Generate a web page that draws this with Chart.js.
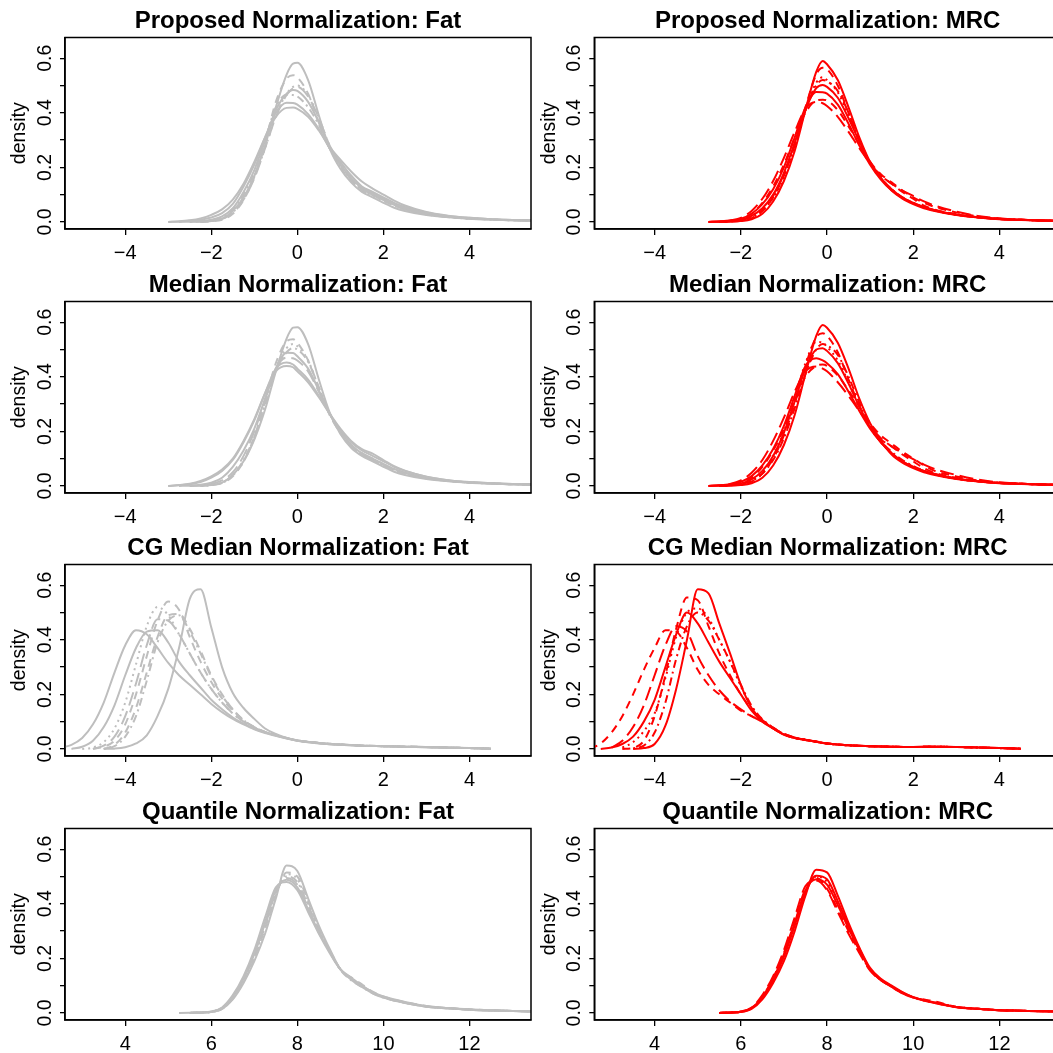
<!DOCTYPE html>
<html>
<head>
<meta charset="utf-8">
<title>Density plots by normalization</title>
<script src="https://cdn.jsdelivr.net/npm/chart.js@4.4.1/dist/chart.umd.min.js"></script>
<style>
  html, body { margin: 0; padding: 0; background: #fff; width: 1053px; height: 1053px; overflow: hidden; }
  canvas { position: absolute; }
</style>
</head>
<body>
<script>
// x grids the density curves are sampled on
const gridTop = [-3.25,-3,-2.75,-2.5,-2.25,-2,-1.75,-1.5,-1.25,-1,-0.75,-0.5,-0.25,-0.1,0,0.25,0.5,0.75,1,1.25,1.5,1.75,2,2.25,2.5,3,3.5,4,4.5,5,5.5];
const gridCG = [-5.5,-5.25,-5,-4.75,-4.5,-4.25,-4,-3.75,-3.5,-3.25,-3,-2.75,-2.5,-2.25,-2,-1.75,-1.5,-1.25,-1,-0.75,-0.5,-0.25,0,0.5,1,1.5,2,2.5,3,3.5,4,4.5];
const gridQ = [5.25,5.5,5.75,6,6.25,6.5,6.75,7,7.25,7.5,7.75,8,8.25,8.5,8.75,9,9.25,9.5,9.75,10,10.5,11,11.5,12,12.5,13,13.5];

// tick values and labels
const xTicksNorm = [-4, -2, 0, 2, 4];
const xLabelsNorm = ['\u22124', '\u22122', '0', '2', '4'];
const xTicksQ = [4, 6, 8, 10, 12];
const xLabelsQ = ['4', '6', '8', '10', '12'];
const yTicks = [0, 0.1, 0.2, 0.3, 0.4, 0.5, 0.6];
const yLabels = ['0.0', '', '0.2', '', '0.4', '', '0.6'];

// Proposed normalization: Fat
const propFat = [
  [null,null,null,0,0.001,0.003,0.012,0.04,0.09,0.17,0.28,0.42,0.54,0.58,0.583,0.52,0.39,0.27,0.195,0.145,0.11,0.09,0.07,0.052,0.04,0.025,0.017,0.012,0.009,0.006,0.005],
  [null,null,0,0.001,0.003,0.008,0.02,0.05,0.11,0.19,0.3,0.41,0.47,0.484,0.48,0.44,0.365,0.275,0.21,0.16,0.125,0.105,0.085,0.065,0.05,0.03,0.02,0.013,0.009,0.007,0.005],
  [null,0,0.001,0.004,0.008,0.016,0.032,0.066,0.13,0.21,0.31,0.4,0.437,0.436,0.43,0.395,0.34,0.27,0.22,0.17,0.13,0.11,0.09,0.07,0.055,0.035,0.022,0.015,0.01,0.007,0.005],
  [null,0,0.002,0.006,0.013,0.026,0.046,0.082,0.14,0.22,0.31,0.385,0.418,0.419,0.414,0.385,0.335,0.275,0.228,0.185,0.148,0.122,0.1,0.078,0.06,0.036,0.023,0.015,0.01,0.007,0.005],
  [null,null,null,null,0,0.002,0.008,0.03,0.08,0.165,0.29,0.44,0.525,0.538,0.53,0.47,0.365,0.27,0.2,0.15,0.115,0.098,0.078,0.06,0.046,0.028,0.018,0.012,0.009,0.006,0.005],
  [null,null,null,null,0,0.004,0.012,0.035,0.085,0.165,0.27,0.39,0.47,0.495,0.5,0.465,0.38,0.28,0.205,0.15,0.115,0.095,0.078,0.06,0.046,0.028,0.018,0.012,0.009,0.006,0.005],
  [null,null,null,0,0.002,0.006,0.018,0.045,0.1,0.185,0.3,0.42,0.466,0.465,0.46,0.42,0.355,0.27,0.21,0.16,0.12,0.1,0.082,0.063,0.048,0.03,0.019,0.013,0.009,0.006,0.005],
  [null,null,null,null,0,0.003,0.01,0.032,0.082,0.16,0.27,0.385,0.465,0.49,0.495,0.46,0.38,0.28,0.21,0.155,0.12,0.1,0.08,0.062,0.047,0.029,0.018,0.012,0.009,0.006,0.005]
];
const ltyPropFat = ['solid','solid','solid','solid','dashed','dotted','dotdash','longdash'];

// Proposed normalization: MRC
const propMRC = [
  [null,null,null,0,0.001,0.003,0.01,0.03,0.075,0.15,0.26,0.41,0.55,0.59,0.578,0.52,0.42,0.31,0.22,0.16,0.115,0.085,0.065,0.05,0.04,0.025,0.016,0.01,0.007,0.005,0.004],
  [null,null,0,0.001,0.003,0.008,0.022,0.05,0.1,0.18,0.29,0.41,0.49,0.502,0.495,0.455,0.38,0.295,0.215,0.16,0.12,0.09,0.07,0.055,0.043,0.027,0.017,0.011,0.008,0.005,0.004],
  [null,null,0,0.002,0.005,0.012,0.03,0.065,0.12,0.2,0.31,0.42,0.476,0.475,0.47,0.43,0.36,0.28,0.21,0.155,0.115,0.088,0.068,0.053,0.042,0.026,0.017,0.011,0.008,0.005,0.004],
  [null,null,null,0,0.001,0.004,0.014,0.04,0.09,0.17,0.28,0.42,0.54,0.565,0.56,0.5,0.4,0.3,0.22,0.17,0.14,0.11,0.085,0.06,0.045,0.028,0.017,0.011,0.008,0.005,0.004],
  [null,null,null,0,0.002,0.006,0.018,0.045,0.095,0.175,0.285,0.41,0.5,0.52,0.515,0.48,0.4,0.3,0.215,0.16,0.12,0.09,0.07,0.055,0.043,0.027,0.017,0.011,0.008,0.005,0.004],
  [null,null,null,0,0.003,0.01,0.03,0.07,0.13,0.21,0.31,0.4,0.445,0.448,0.445,0.41,0.35,0.285,0.22,0.175,0.145,0.115,0.09,0.07,0.055,0.035,0.02,0.012,0.008,0.005,0.004],
  [null,null,0,0.001,0.005,0.015,0.04,0.085,0.15,0.235,0.33,0.415,0.44,0.435,0.425,0.385,0.33,0.27,0.215,0.17,0.14,0.115,0.095,0.075,0.06,0.038,0.022,0.013,0.008,0.005,0.004],
  [null,null,null,0,0.001,0.005,0.015,0.04,0.088,0.165,0.275,0.41,0.51,0.53,0.52,0.475,0.39,0.295,0.215,0.16,0.12,0.09,0.07,0.054,0.042,0.026,0.017,0.011,0.008,0.005,0.004]
];
const ltyPropMRC = ['solid','solid','solid','dashed','dotdash','dashed','longdash','dotted'];

// Median normalization: Fat
const medFat = [
  [null,null,null,0,0.001,0.003,0.012,0.04,0.09,0.17,0.28,0.42,0.54,0.58,0.582,0.52,0.39,0.27,0.19,0.14,0.11,0.09,0.07,0.052,0.04,0.025,0.017,0.012,0.009,0.006,0.005],
  [null,null,null,null,0,0.003,0.01,0.035,0.09,0.18,0.31,0.45,0.53,0.538,0.525,0.46,0.36,0.26,0.195,0.145,0.115,0.095,0.075,0.058,0.045,0.028,0.018,0.012,0.009,0.006,0.005],
  [null,null,null,null,0,0.004,0.012,0.04,0.095,0.18,0.3,0.42,0.49,0.505,0.5,0.455,0.36,0.265,0.195,0.145,0.115,0.095,0.077,0.06,0.046,0.028,0.018,0.012,0.009,0.006,0.005],
  [null,null,0,0.001,0.004,0.012,0.03,0.07,0.13,0.21,0.32,0.43,0.488,0.487,0.475,0.43,0.35,0.265,0.2,0.15,0.12,0.1,0.08,0.062,0.048,0.03,0.019,0.013,0.009,0.006,0.005],
  [null,0,0.002,0.006,0.014,0.03,0.055,0.095,0.16,0.24,0.34,0.43,0.452,0.445,0.43,0.39,0.33,0.265,0.205,0.16,0.13,0.11,0.09,0.07,0.055,0.034,0.021,0.014,0.01,0.007,0.005],
  [null,0,0.003,0.008,0.018,0.035,0.06,0.1,0.165,0.245,0.34,0.42,0.44,0.435,0.42,0.38,0.325,0.265,0.21,0.165,0.135,0.118,0.095,0.072,0.056,0.034,0.021,0.014,0.01,0.007,0.005],
  [null,null,null,null,0,0.003,0.011,0.038,0.09,0.175,0.3,0.43,0.505,0.52,0.512,0.46,0.36,0.265,0.195,0.145,0.113,0.093,0.075,0.058,0.045,0.028,0.018,0.012,0.009,0.006,0.005],
  [null,null,null,0,0.002,0.007,0.02,0.05,0.11,0.2,0.315,0.43,0.47,0.468,0.46,0.42,0.345,0.265,0.2,0.15,0.12,0.1,0.08,0.062,0.048,0.03,0.019,0.013,0.009,0.006,0.005]
];
const ltyMedFat = ['solid','dashed','dotdash','solid','solid','solid','dotted','longdash'];

// Median normalization: MRC
const medMRC = [
  [null,null,null,0,0.001,0.003,0.01,0.03,0.075,0.15,0.26,0.41,0.55,0.59,0.58,0.525,0.43,0.32,0.23,0.165,0.115,0.085,0.065,0.05,0.04,0.025,0.016,0.01,0.007,0.005,0.004],
  [null,null,null,0,0.002,0.005,0.016,0.045,0.1,0.185,0.3,0.44,0.545,0.56,0.55,0.49,0.39,0.295,0.22,0.17,0.145,0.115,0.09,0.065,0.048,0.03,0.018,0.011,0.008,0.005,0.004],
  [null,null,null,0,0.002,0.007,0.02,0.05,0.11,0.2,0.32,0.45,0.528,0.525,0.51,0.46,0.38,0.29,0.215,0.16,0.12,0.09,0.07,0.054,0.042,0.026,0.017,0.011,0.008,0.005,0.004],
  [null,null,0,0.001,0.003,0.009,0.024,0.055,0.11,0.195,0.31,0.43,0.5,0.505,0.495,0.45,0.375,0.29,0.215,0.16,0.12,0.09,0.07,0.055,0.043,0.027,0.017,0.011,0.008,0.005,0.004],
  [null,null,0,0.002,0.006,0.015,0.036,0.075,0.135,0.22,0.33,0.44,0.468,0.46,0.45,0.41,0.345,0.275,0.21,0.16,0.12,0.09,0.07,0.055,0.043,0.027,0.017,0.011,0.008,0.005,0.004],
  [null,null,null,0,0.003,0.01,0.03,0.07,0.13,0.21,0.31,0.4,0.44,0.445,0.44,0.405,0.35,0.29,0.23,0.185,0.155,0.125,0.1,0.075,0.055,0.035,0.02,0.012,0.008,0.005,0.004],
  [null,null,0,0.002,0.007,0.02,0.048,0.095,0.165,0.25,0.345,0.42,0.438,0.43,0.42,0.38,0.33,0.275,0.22,0.175,0.145,0.12,0.098,0.078,0.062,0.04,0.023,0.013,0.008,0.005,0.004],
  [null,null,null,0,0.002,0.006,0.018,0.045,0.095,0.175,0.285,0.41,0.5,0.52,0.515,0.48,0.4,0.305,0.22,0.165,0.125,0.095,0.073,0.056,0.044,0.027,0.017,0.011,0.008,0.005,0.004]
];
const ltyMedMRC = ['solid','dashed','dotted','solid','solid','dashed','longdash','dotdash'];

// CG median normalization: Fat
const cgFat = [
  [null,null,null,null,0,0.001,0.006,0.02,0.05,0.12,0.22,0.37,0.55,0.585,0.445,0.3,0.205,0.15,0.11,0.075,0.055,0.04,0.031,0.022,0.016,0.012,0.01,0.008,0.007,0.005,0.003,0.001],
  [0.004,0.015,0.04,0.09,0.17,0.28,0.38,0.435,0.42,0.37,0.315,0.27,0.235,0.2,0.165,0.135,0.11,0.09,0.072,0.058,0.048,0.038,0.03,0.02,0.015,0.012,0.01,0.008,0.006,0.004,0.003,0.001],
  [null,0,0.008,0.03,0.08,0.16,0.27,0.37,0.43,0.435,0.39,0.32,0.27,0.225,0.18,0.145,0.115,0.093,0.074,0.06,0.049,0.039,0.03,0.021,0.015,0.012,0.01,0.008,0.006,0.004,0.003,0.001],
  [null,null,null,0,0.008,0.03,0.09,0.2,0.34,0.47,0.54,0.51,0.41,0.32,0.245,0.185,0.14,0.105,0.08,0.062,0.05,0.04,0.031,0.022,0.016,0.012,0.01,0.008,0.007,0.005,0.003,0.001],
  [null,null,null,null,0,0.01,0.045,0.12,0.25,0.39,0.47,0.49,0.43,0.35,0.265,0.195,0.145,0.105,0.08,0.062,0.05,0.04,0.031,0.022,0.016,0.012,0.01,0.008,0.007,0.005,0.003,0.001],
  [null,null,0,0.005,0.025,0.075,0.17,0.31,0.45,0.52,0.49,0.42,0.35,0.28,0.22,0.17,0.13,0.1,0.078,0.062,0.05,0.04,0.031,0.022,0.016,0.012,0.01,0.008,0.007,0.005,0.003,0.001],
  [null,null,null,0,0.012,0.045,0.12,0.24,0.38,0.475,0.47,0.42,0.35,0.28,0.22,0.17,0.13,0.1,0.078,0.062,0.05,0.04,0.031,0.022,0.016,0.012,0.01,0.008,0.007,0.005,0.003,0.001],
  [null,null,null,null,0,0.015,0.06,0.15,0.28,0.41,0.49,0.495,0.44,0.36,0.27,0.2,0.145,0.105,0.08,0.062,0.05,0.04,0.031,0.022,0.016,0.012,0.01,0.008,0.007,0.005,0.003,0.001]
];
const ltyCgFat = ['solid','solid','solid','dashed','dotdash','dotted','longdash','dashed'];

// CG median normalization: MRC
const cgMRC = [
  [null,null,null,null,0,0.003,0.018,0.085,0.22,0.4,0.585,0.57,0.46,0.35,0.235,0.15,0.105,0.075,0.052,0.04,0.033,0.026,0.02,0.013,0.01,0.008,0.007,0.008,0.007,0.005,0.003,0.001],
  [null,0,0.005,0.018,0.045,0.1,0.18,0.3,0.42,0.5,0.46,0.39,0.32,0.26,0.2,0.14,0.1,0.075,0.053,0.04,0.033,0.026,0.02,0.013,0.01,0.008,0.007,0.008,0.007,0.005,0.003,0.001],
  [null,null,null,0,0.004,0.03,0.12,0.27,0.44,0.555,0.545,0.45,0.35,0.27,0.2,0.145,0.105,0.078,0.054,0.04,0.033,0.026,0.02,0.013,0.01,0.008,0.007,0.008,0.007,0.005,0.003,0.001],
  [0,0.02,0.06,0.12,0.2,0.29,0.37,0.435,0.43,0.37,0.29,0.235,0.2,0.17,0.14,0.12,0.1,0.075,0.055,0.042,0.034,0.027,0.02,0.013,0.01,0.008,0.007,0.008,0.007,0.005,0.003,0.001],
  [null,null,0.005,0.03,0.08,0.16,0.27,0.38,0.45,0.43,0.34,0.27,0.215,0.175,0.145,0.12,0.1,0.076,0.055,0.042,0.034,0.027,0.02,0.013,0.01,0.008,0.007,0.008,0.007,0.005,0.003,0.001],
  [null,null,null,0.005,0.025,0.065,0.13,0.26,0.41,0.5,0.515,0.48,0.4,0.32,0.23,0.155,0.108,0.078,0.054,0.04,0.033,0.026,0.02,0.013,0.01,0.008,0.007,0.008,0.007,0.005,0.003,0.001],
  [null,null,null,null,0.002,0.012,0.06,0.17,0.33,0.45,0.5,0.47,0.4,0.32,0.235,0.158,0.108,0.078,0.054,0.04,0.033,0.026,0.02,0.013,0.01,0.008,0.007,0.008,0.007,0.005,0.003,0.001]
];
const ltyCgMRC = ['solid','solid','dashed','dashed','longdash','dotted','dotdash'];

// Quantile normalization: Fat
const quantFat = [
  [null,0,0.001,0.003,0.015,0.05,0.11,0.19,0.29,0.42,0.54,0.52,0.42,0.32,0.235,0.16,0.125,0.1,0.076,0.06,0.04,0.025,0.018,0.013,0.01,0.007,0.005],
  [0,0.001,0.002,0.005,0.02,0.065,0.135,0.23,0.35,0.46,0.48,0.45,0.37,0.29,0.22,0.16,0.13,0.1,0.075,0.058,0.038,0.024,0.017,0.012,0.009,0.007,0.005],
  [null,0,0.001,0.004,0.018,0.06,0.125,0.215,0.33,0.45,0.488,0.46,0.38,0.295,0.225,0.16,0.122,0.095,0.072,0.056,0.036,0.023,0.017,0.012,0.009,0.007,0.005],
  [null,0,0.001,0.003,0.015,0.052,0.115,0.2,0.31,0.43,0.515,0.5,0.41,0.31,0.23,0.16,0.13,0.105,0.078,0.06,0.04,0.025,0.018,0.013,0.01,0.007,0.005],
  [null,0,0.001,0.003,0.016,0.055,0.12,0.205,0.315,0.435,0.508,0.49,0.4,0.31,0.23,0.16,0.125,0.1,0.075,0.058,0.038,0.024,0.017,0.012,0.009,0.007,0.005],
  [null,0,0.001,0.004,0.017,0.058,0.122,0.21,0.32,0.44,0.5,0.48,0.395,0.305,0.225,0.158,0.12,0.095,0.072,0.056,0.037,0.023,0.017,0.012,0.009,0.007,0.005],
  [null,0,0.001,0.004,0.018,0.06,0.128,0.22,0.33,0.445,0.495,0.47,0.385,0.3,0.225,0.16,0.125,0.098,0.074,0.057,0.037,0.023,0.017,0.012,0.009,0.007,0.005]
];
const ltyQuantFat = ['solid','solid','solid','dashed','dotted','dotdash','longdash'];

// Quantile normalization: MRC
const quantMRC = [
  [null,0,0.001,0.003,0.015,0.05,0.11,0.19,0.3,0.43,0.525,0.515,0.43,0.33,0.24,0.165,0.125,0.1,0.076,0.058,0.038,0.022,0.015,0.01,0.008,0.006,0.005],
  [null,0,0.001,0.004,0.017,0.055,0.12,0.205,0.32,0.44,0.503,0.49,0.41,0.32,0.235,0.16,0.122,0.097,0.074,0.057,0.037,0.022,0.015,0.01,0.008,0.006,0.005],
  [null,0,0.001,0.004,0.018,0.058,0.125,0.215,0.33,0.45,0.49,0.47,0.395,0.31,0.23,0.16,0.12,0.095,0.072,0.056,0.036,0.021,0.015,0.01,0.008,0.006,0.005],
  [null,0,0.001,0.004,0.018,0.06,0.128,0.22,0.335,0.455,0.495,0.455,0.38,0.3,0.225,0.158,0.12,0.098,0.075,0.058,0.042,0.022,0.015,0.01,0.008,0.006,0.005],
  [null,0,0.002,0.005,0.02,0.065,0.135,0.23,0.35,0.465,0.485,0.45,0.37,0.29,0.22,0.155,0.12,0.097,0.074,0.057,0.04,0.022,0.015,0.01,0.008,0.006,0.005],
  [null,0,0.001,0.004,0.017,0.056,0.122,0.21,0.325,0.445,0.5,0.48,0.4,0.315,0.232,0.16,0.121,0.096,0.073,0.056,0.037,0.022,0.015,0.01,0.008,0.006,0.005]
];
const ltyQuantMRC = ['solid','solid','solid','dashed','longdash','dotted'];

const grey = '#BEBEBE';
const red = '#FF0000';
const dashes = { solid: [], dashed: [8, 6], dotted: [2, 4], dotdash: [2, 4, 8, 4], longdash: [14, 6] };

const panels = [
  { title: 'Proposed Normalization: Fat', grid: gridTop, curves: propFat, lty: ltyPropFat, color: grey, quant: false },
  { title: 'Proposed Normalization: MRC', grid: gridTop, curves: propMRC, lty: ltyPropMRC, color: red, quant: false },
  { title: 'Median Normalization: Fat', grid: gridTop, curves: medFat, lty: ltyMedFat, color: grey, quant: false },
  { title: 'Median Normalization: MRC', grid: gridTop, curves: medMRC, lty: ltyMedMRC, color: red, quant: false },
  { title: 'CG Median Normalization: Fat', grid: gridCG, curves: cgFat, lty: ltyCgFat, color: grey, quant: false },
  { title: 'CG Median Normalization: MRC', grid: gridCG, curves: cgMRC, lty: ltyCgMRC, color: red, quant: false },
  { title: 'Quantile Normalization: Fat', grid: gridQ, curves: quantFat, lty: ltyQuantFat, color: grey, quant: true },
  { title: 'Quantile Normalization: MRC', grid: gridQ, curves: quantMRC, lty: ltyQuantMRC, color: red, quant: true }
];

Chart.defaults.font.family = '"Liberation Sans", Arial, Helvetica, sans-serif';
Chart.defaults.color = '#000';

// box around the plotting region, like R's box()
const boxPlugin = {
  id: 'box',
  afterDraw(chart) {
    const a = chart.chartArea;
    const ctx = chart.ctx;
    ctx.save();
    ctx.strokeStyle = '#000';
    ctx.lineWidth = 1.5;
    ctx.strokeRect(a.left, a.top, a.right - a.left, a.bottom - a.top);
    ctx.restore();
  }
};

const ROW_H = 263.7;
const CANVAS_H = 264;

panels.forEach((p, i) => {
  const col = i % 2;
  const row = Math.floor(i / 2);
  const left = col === 0 ? 0 : 526;
  const axisW = col === 0 ? 65 : 68.3;      // distance from canvas edge to plot box
  const width = col === 0 ? 534 : 538;
  const canvas = document.createElement('canvas');
  canvas.width = width;
  canvas.height = CANVAS_H;
  canvas.style.left = left + 'px';
  canvas.style.top = Math.round(row * ROW_H) + 'px';
  document.body.appendChild(canvas);

  const xt = p.quant ? xTicksQ : xTicksNorm;
  const xl = p.quant ? xLabelsQ : xLabelsNorm;
  const xmin = p.quant ? 2.6 : -5.4;
  const xmax = p.quant ? 13.43 : 5.43;

  const datasets = p.curves.map((c, k) => ({
    data: p.grid.map((x, j) => ({ x: x, y: c[j] })),
    borderColor: p.color,
    borderWidth: 2,
    borderDash: dashes[p.lty[k]],
    pointRadius: 0,
    fill: false,
    cubicInterpolationMode: 'monotone',
    clip: 0
  }));

  new Chart(canvas.getContext('2d'), {
    type: 'line',
    data: { datasets: datasets },
    options: {
      responsive: false,
      animation: false,
      events: [],
      layout: { padding: { left: 0, right: 3, top: 0, bottom: 0 } },
      plugins: {
        legend: { display: false },
        tooltip: { enabled: false },
        title: {
          display: true,
          text: p.title,
          fullSize: false,
          font: { size: 24, weight: 'bold' },
          color: '#000',
          padding: { top: 6.6, bottom: 2.1 }
        }
      },
      scales: {
        x: {
          type: 'linear',
          min: xmin,
          max: xmax,
          afterBuildTicks: ax => { ax.ticks = xt.map(v => ({ value: v })); },
          afterFit: ax => { ax.height = 35; },
          ticks: {
            font: { size: 20 },
            color: '#000',
            padding: 6,
            maxRotation: 0,
            autoSkip: false,
            callback: (v, idx) => xl[idx]
          },
          grid: { drawOnChartArea: false, drawTicks: true, tickLength: 6, color: '#000', lineWidth: 1.3 },
          border: { display: true, color: '#000', width: 1.5 }
        },
        y: {
          type: 'linear',
          min: -0.026,
          max: 0.676,
          afterBuildTicks: ax => { ax.ticks = yTicks.map(v => ({ value: v })); },
          afterFit: ax => { ax.width = axisW; },
          ticks: {
            font: { size: 19.5 },
            color: '#000',
            padding: 1,
            minRotation: 90,
            maxRotation: 90,
            crossAlign: 'center',
            autoSkip: false,
            callback: (v, idx) => yLabels[idx]
          },
          title: {
            display: true,
            text: 'density',
            font: { size: 19.5 },
            color: '#000',
            padding: { top: axisW - 45 - 11.7, bottom: 0 }
          },
          grid: { drawOnChartArea: false, drawTicks: true, tickLength: 5, color: '#000', lineWidth: 1.3 },
          border: { display: true, color: '#000', width: 1.5 }
        }
      }
    },
    plugins: [boxPlugin]
  });
});
</script>
</body>
</html>
